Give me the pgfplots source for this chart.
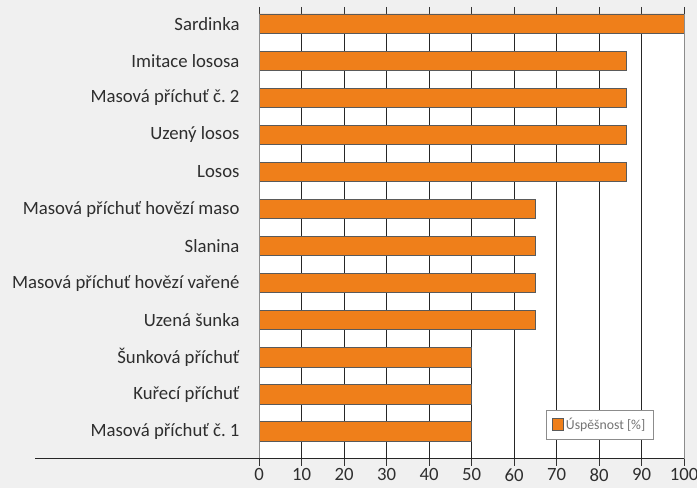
\documentclass[border=0pt]{standalone}
\usepackage{pgfplots}
\pgfplotsset{compat=1.18}
\usepackage{fontspec}
\setmainfont{Carlito}
\frenchspacing
\definecolor{bg}{HTML}{F0F0F0}
\definecolor{barorange}{HTML}{EF7F1A}
\definecolor{baredge}{HTML}{5A5A5A}
\definecolor{txt}{HTML}{2E2E2E}
\begin{document}
\begin{tikzpicture}[x=1bp,y=1bp]
\useasboundingbox (0,0) rectangle (697,488);
\fill[bg] (0,0) rectangle (697,488);
\begin{axis}[
  at={(259bp,29bp)}, anchor=south west,
  width=425bp, height=445bp, scale only axis,
  xmin=0, xmax=100, ymin=-0.74, ymax=11.26,
  xbar, bar width=0.52,
  axis background/.style={fill=white},
  axis line style={draw=none},
  xtick={0,10,...,100},
  ytick={0,...,11},
  yticklabels={Masová příchuť č.\ 1, Kuřecí příchuť, Šunková příchuť, Uzená šunka, Masová příchuť hovězí vařené, Slanina, Masová příchuť hovězí maso, Losos, Uzený losos, Masová příchuť č.\ 2, Imitace lososa, Sardinka},
  xmajorgrids, major grid style={draw=black!85, line width=0.9bp},
  tick align=outside, major tick length=7bp,
  xtick style={draw=black!80, line width=0.9bp},
  ytick style={draw=none},
  /pgf/number format/assume math mode=true,
  tick label style={font=\fontsize{18.8}{20}\selectfont, text=txt},
  yticklabel style={xshift=-9bp},
  xticklabel style={yshift=-1.5bp, inner ysep=1bp},
  clip=false,
  legend style={at={(0.675,0.11)}, anchor=north west, draw=black!45, fill=white,
    font=\fontsize{13.8}{15}\selectfont, text=black!55, inner xsep=6bp, inner ysep=6bp},
  legend image code/.code={\draw[#1] (0bp,-6bp) rectangle (11bp,6bp);},
]
\addplot[fill=barorange, draw=baredge, line width=0.9bp] coordinates {
 (50,0) (50,1) (50,2) (65,3) (65,4) (65,5) (65,6) (86.4,7) (86.4,8) (86.4,9) (86.4,10) (100,11)};
\addlegendentry{Úspěšnost [\%]}
\draw[black!45, line width=1bp] (axis cs:0,-0.74) -- (axis cs:0,11.26);
\draw[black!45, line width=1bp] (axis cs:100,-0.74) -- (axis cs:100,11.26);
\draw[black!85, line width=1bp] (axis cs:-52.7,-0.74) -- (axis cs:100,-0.74);
\end{axis}
\end{tikzpicture}
\end{document}
